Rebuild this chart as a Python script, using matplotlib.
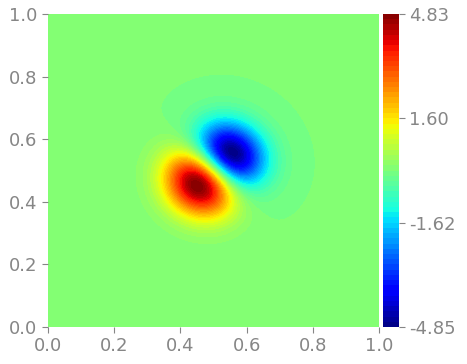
import numpy as np
import matplotlib
matplotlib.use("Agg")
import matplotlib.pyplot as plt

# dipole: lobe peaks, lobe centres (data units), lobe width
lobe_peak = [4.83, -4.85]
lobe_x = [0.453, 0.556]
lobe_y = [0.454, 0.556]
lobe_width = [0.077, 0.077]
cbar_ticks = [-4.85, -1.62, 1.60, 4.83]
axis_ticks = [0.0, 0.2, 0.4, 0.6, 0.8, 1.0]

grey = "#868686"

n = 300
xs = np.linspace(0, 1, n)
X, Y = np.meshgrid(xs, xs)

# diagonal dipole: odd along the line joining the two lobes
cx = (lobe_x[0] + lobe_x[1]) / 2
cy = (lobe_y[0] + lobe_y[1]) / 2
sig = np.mean(lobe_width)
u = ((cx - X) + (cy - Y)) / np.sqrt(2)
v = ((X - cx) - (Y - cy)) / np.sqrt(2)
g = (u / sig) * np.exp(0.5 - (u ** 2 + v ** 2) / (2 * sig ** 2))
Z = np.where(g > 0, g * lobe_peak[0], -g * lobe_peak[1])

fig = plt.figure(figsize=(4.67, 3.64), dpi=100)
ax = fig.add_axes([48 / 467, 37 / 364, 331 / 467, 313 / 364])
cax = fig.add_axes([383 / 467, 37 / 364, 16 / 467, 313 / 364])

levels = np.linspace(cbar_ticks[0], cbar_ticks[-1], 61)
cs = ax.contourf(X, Y, Z, levels=levels, cmap="jet")
ax.set_xlim(0, 1)
ax.set_ylim(0, 1)
ax.set_xticks(axis_ticks)
ax.set_yticks(axis_ticks)
for s in ax.spines.values():
    s.set_visible(False)
ax.tick_params(colors=grey, labelsize=13, length=4)

cb = fig.colorbar(cs, cax=cax, ticks=cbar_ticks)
cb.outline.set_visible(False)
cb.ax.set_yticklabels(["%.2f" % t for t in cbar_ticks])
cb.ax.tick_params(colors=grey, labelsize=13, length=4)

fig.savefig("out.png", dpi=100)
